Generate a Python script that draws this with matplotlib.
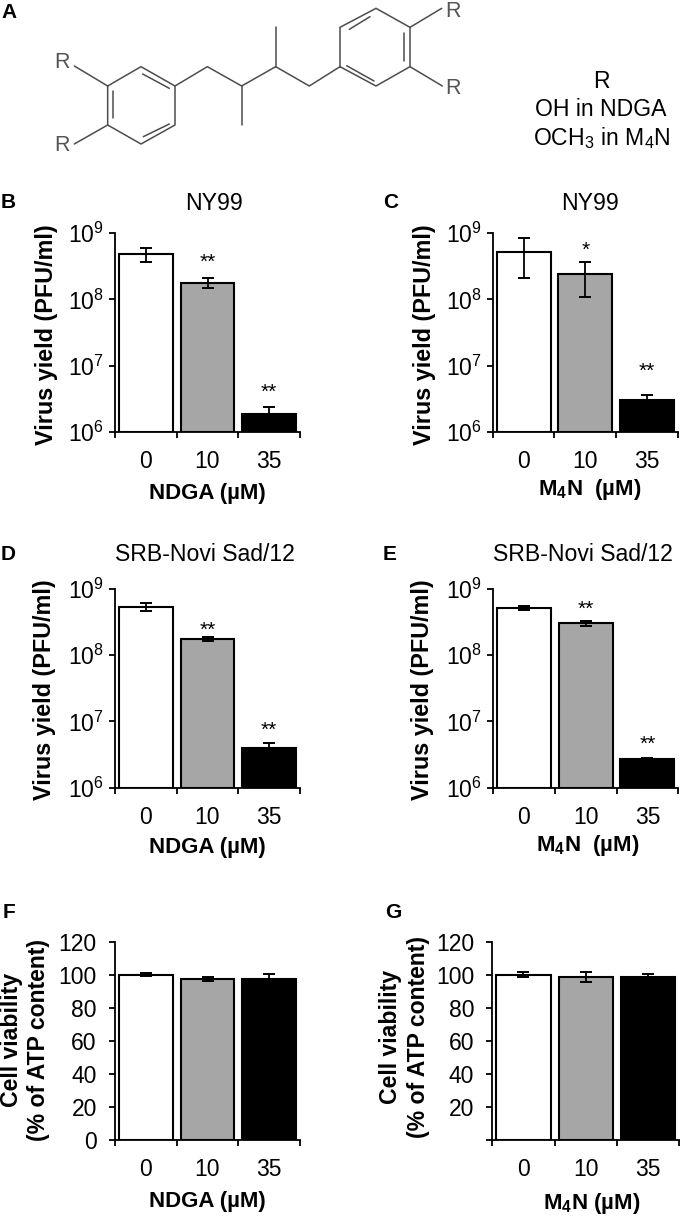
import numpy as np
import matplotlib
matplotlib.use("Agg")
import matplotlib.pyplot as plt

plt.rcParams['font.family'] = ['Liberation Sans', 'DejaVu Sans']
plt.rcParams['mathtext.fontset'] = 'custom'
plt.rcParams['mathtext.rm'] = 'Liberation Sans'
plt.rcParams['mathtext.bf'] = 'Liberation Sans:bold'
plt.rcParams['mathtext.default'] = 'regular'

W, H = 680, 1216

doses = ['0', '10', '35']
bar_colors = ['white', '#a6a6a6', 'black']

# virus yield, PFU/ml
b_vals = [4.86e8, 1.79e8, 1.83e6]
b_low = [3.64e8, 1.47e8, 1.83e6]
b_high = [6.07e8, 2.10e8, 2.39e6]
b_stars = ['', '**', '**']

c_vals = [5.3e8, 2.43e8, 2.98e6]
c_low = [2.1e8, 1.1e8, 2.98e6]
c_high = [8.5e8, 3.7e8, 3.6e6]
c_stars = ['', '*', '**']

d_vals = [5.4e8, 1.76e8, 3.97e6]
d_low = [4.66e8, 1.63e8, 3.97e6]
d_high = [6.2e8, 1.88e8, 4.7e6]
d_stars = ['', '**', '**']

e_vals = [5.2e8, 3.03e8, 2.71e6]
e_low = [4.9e8, 2.8e8, 2.71e6]
e_high = [5.6e8, 3.27e8, 2.76e6]
e_stars = ['', '**', '**']

# cell viability, %
f_vals = [100, 97.5, 97.5]
f_low = [99, 96.3, 97.5]
f_high = [101, 98.7, 100.6]

g_vals = [100, 98.8, 98.8]
g_low = [98.6, 95.5, 98.8]
g_high = [101.4, 101.5, 100.4]

viab_ticks = [0, 20, 40, 60, 80, 100, 120]
viab_labels_f = ['0', '20', '40', '60', '80', '100', '120']
viab_labels_g = ['', '20', '40', '60', '80', '100', '120']

fig = plt.figure(figsize=(W / 100, H / 100), dpi=100, facecolor='white')


def px_text(x, y, s, **kw):
    kw.setdefault('ha', 'center')
    kw.setdefault('va', 'center')
    kw.setdefault('color', 'black')
    return fig.text(x / W, 1 - y / H, s, **kw)


def make_axes(left, right, top, bottom):
    ax = fig.add_axes([left / W, 1 - bottom / H, (right - left) / W, (bottom - top) / H])
    ax.spines['top'].set_visible(False)
    ax.spines['right'].set_visible(False)
    ax.spines['left'].set_linewidth(1.3)
    ax.spines['bottom'].set_linewidth(1.3)
    ax.patch.set_alpha(0)
    return ax


def draw_bars(ax, vals, low, high, base, ypad):
    x = np.arange(3)
    vals = np.array(vals, dtype=float)
    ax.bar(x, vals - base, bottom=base, width=0.875, color=bar_colors,
           edgecolor='black', linewidth=1.5, zorder=2)
    yerr = [vals - np.array(low), np.array(high) - vals]
    ax.errorbar(x, vals, yerr=yerr, fmt='none', ecolor='black', elinewidth=1.3,
                capsize=4.2, capthick=1.4, zorder=3)
    ax.set_xlim(-0.5, 2.5)
    ax.set_xticks([-0.5, 0.5, 1.5, 2.5])
    ax.set_xticklabels([])
    ax.set_xticks(x, doses, minor=True)
    ax.tick_params(axis='x', which='major', length=4.4, width=1.3, direction='out')
    ax.tick_params(axis='x', which='minor', length=0, pad=13, labelsize=16.5)
    ax.tick_params(axis='y', which='major', length=4.6, width=1.3, direction='out',
                   pad=ypad, labelsize=16.5)


def virus_panel(rect, vals, low, high, stars, star_offs):
    ax = make_axes(*rect)
    ax.set_yscale('log')
    draw_bars(ax, vals, low, high, 1e6, 3.5)
    ax.set_ylim(1e6, 1e9)
    ax.set_yticks([1e6, 1e7, 1e8, 1e9])
    ax.set_yticks([], minor=True)
    for i, s in enumerate(stars):
        if s:
            ax.annotate(s, (i, high[i]), xytext=(0, star_offs[i]), textcoords='offset pixels',
                        ha='center', va='center', fontsize=15)
    return ax


def viab_panel(rect, vals, low, high, tick_labels):
    ax = make_axes(*rect)
    draw_bars(ax, vals, low, high, 0, 8.5)
    ax.set_ylim(0, 120)
    ax.set_yticks(viab_ticks, tick_labels)
    return ax


virus_panel((115, 300, 233.3, 431.7), b_vals, b_low, b_high, b_stars, [0, 16, 14])
virus_panel((492.7, 678, 233.3, 431.7), c_vals, c_low, c_high, c_stars, [0, 12, 24])
virus_panel((115, 300, 589, 787.7), d_vals, d_low, d_high, d_stars, [0, 7, 13])
virus_panel((493, 678.3, 589, 787.7), e_vals, e_low, e_high, e_stars, [0, 12, 14])
viab_panel((115, 300, 941.7, 1140), f_vals, f_low, f_high, viab_labels_f)
viab_panel((492.3, 679.3, 941.7, 1140), g_vals, g_low, g_high, viab_labels_g)

# panel letters
for s, x, y in [('A', 9, 12), ('B', 8, 203), ('C', 391, 203), ('D', 8, 554),
                ('E', 390, 554), ('F', 9, 913), ('G', 393, 913)]:
    px_text(x, y, s, fontsize=15, fontweight='bold')

# titles
px_text(214, 203, 'NY99', fontsize=16.6)
px_text(590, 203, 'NY99', fontsize=16.6)
px_text(205, 554, 'SRB-Novi Sad/12', fontsize=16.6)
px_text(583, 554, 'SRB-Novi Sad/12', fontsize=16.6)

# axis labels
NDGA = 'NDGA (µM)'
M4N = r'M$\mathbf{_4}$N  (µM)'
px_text(207, 493, NDGA, fontsize=16, fontweight='bold')
px_text(590, 490, M4N, fontsize=16, fontweight='bold')
px_text(207, 848, NDGA, fontsize=16, fontweight='bold')
px_text(588, 845, M4N, fontsize=16, fontweight='bold')
px_text(207, 1202, NDGA, fontsize=16, fontweight='bold')
px_text(592, 1203, r'M$\mathbf{_4}$N (µM)', fontsize=16, fontweight='bold')

for x, y in [(47, 335), (424, 335), (45, 690), (423, 690)]:
    px_text(x, y, 'Virus yield (PFU/ml)', fontsize=16.8, fontweight='bold', rotation=90)
for x1, x2, y in [(12, 39, 1040), (390, 419, 1037)]:
    px_text(x1, y, 'Cell viability', fontsize=16.6, fontweight='bold', rotation=90)
    px_text(x2, y, '(% of ATP content)', fontsize=16.6, fontweight='bold', rotation=90)

##############################################################################
# panel A, the structure, drawn in 3x crop coordinates
skeleton = [
    [(323, 258), (423, 200), (525, 258), (525, 375), (423, 432), (323, 375), (323, 258)],
    [(525, 258), (622, 200), (725, 258), (827, 200), (928, 258), (1020, 200)],
    [(1020, 200), (1020, 82), (1128, 25), (1230, 82), (1230, 200), (1128, 258), (1020, 200)],
    [(725, 258), (725, 375)],
    [(827, 200), (827, 82)],
    [(323, 258), (223, 198)],
    [(323, 375), (223, 432)],
    [(1230, 82), (1325, 25)],
    [(1230, 200), (1327, 258)],
    [(338, 272), (338, 355)],
    [(428, 222), (508, 265)],
    [(430, 410), (508, 372)],
    [(1048, 88), (1110, 50)],
    [(1213, 100), (1213, 183)],
    [(1040, 197), (1122, 243)],
]
ax_a = fig.add_axes([0, 0, 1, 1])
ax_a.set_xlim(0, W)
ax_a.set_ylim(H, 0)
ax_a.axis('off')
ax_a.patch.set_alpha(0)
for seg in skeleton:
    seg = np.array(seg) / 3
    ax_a.plot(seg[:, 0], seg[:, 1], color='#4d4d4d', lw=1.1, solid_capstyle='round')

for x, y in [(185, 189), (185, 437), (1360, 34), (1360, 266)]:
    px_text(x / 3, y / 3, 'R', fontsize=15.5, color='#555555')

px_text(601.7, 81, 'R', fontsize=16.6)
px_text(600.7, 110, 'OH in NDGA', fontsize=16.6)
px_text(602, 138, r'OCH$_3$ in M$_4$N', fontsize=16.6)

fig.savefig('out.png', dpi=100)
